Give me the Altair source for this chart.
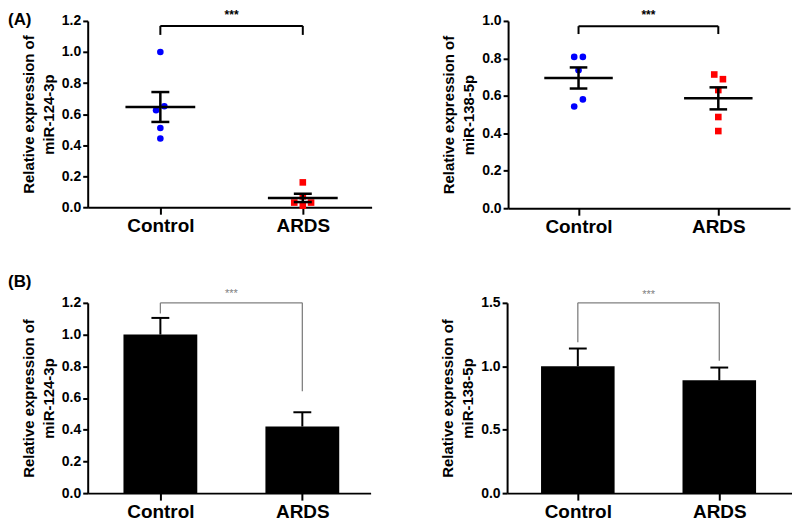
import altair as alt
import pandas as pd

# ---------------- data ----------------
GROUPS = ["Control", "ARDS"]

# Panel A: individual samples (relative expression)
A1_CONTROL = [1.00, 0.65, 0.625, 0.51, 0.443]
A1_ARDS = [0.16, 0.03, 0.01, 0.03, 0.07]
A2_CONTROL = [0.808, 0.808, 0.737, 0.581, 0.543]
A2_ARDS = [0.714, 0.689, 0.631, 0.487, 0.412]

# Panel B: group means and error
B1_MEAN = [1.00, 0.42]
B1_ERR = [0.105, 0.09]
B2_MEAN = [1.00, 0.89]
B2_ERR = [0.14, 0.10]

TITLE_124 = ["Relative expression of", "miR-124-3p"]
TITLE_138 = ["Relative expression of", "miR-138-5p"]
SIG = "***"

# ---------------- layout / style ----------------
FONT = "Liberation Sans"
JIT_A1_C = [0, 0.028, -0.03, 0, 0]
JIT_A1_A = [0, -0.06, 0, 0.058, 0]
JIT_A2_C = [-0.031, 0.031, 0, 0.031, -0.031]
JIT_A2_A = [-0.029, 0.033, 0, 0, 0]

LABEL_EXPR = "['', '%s', '%s'][datum.value] || ''" % (GROUPS[0], GROUPS[1])


class Enc:
    def __init__(self, xdom, ydom, ticks, title):
        self.xdom, self.ydom = xdom, ydom
        self.xax = alt.Axis(values=[1, 2], labelExpr=LABEL_EXPR, title=None,
                            labelFontSize=19, labelPadding=2, tickSize=7)
        self.yax = alt.Axis(values=ticks, format=".1f", title=title, labelFontSize=14,
                            tickSize=5, labelPadding=2, titlePadding=5,
                            titleFontSize=15, titleLineHeight=20)

    def x(self, field):
        return alt.X(field, type="quantitative", axis=self.xax,
                     scale=alt.Scale(domain=self.xdom, nice=False, zero=False))

    def y(self, field):
        return alt.Y(field, type="quantitative", axis=self.yax,
                     scale=alt.Scale(domain=self.ydom, nice=False, zero=True))


def bracket_layers(E, level, drop_c, drop_a, star_y, color, sw, star_size, weight):
    seg = pd.DataFrame({
        "x": [1, 1, 2], "x2": [2, 1, 2],
        "y": [level, drop_c, drop_a], "y2": [level, level, level]})
    br = alt.Chart(seg).mark_rule(color=color, strokeWidth=sw).encode(
        x=E.x("x"), x2="x2:Q", y=E.y("y"), y2="y2:Q")
    st = alt.Chart(pd.DataFrame({"x": [1.5], "y": [star_y], "t": [SIG]})).mark_text(
        color=color, fontSize=star_size, font=FONT, fontWeight=weight, baseline="middle"
    ).encode(x=E.x("x"), y=E.y("y"), text="t:N")
    return [br, st]


def scatter_panel(ctrl, ards, jc, ja, ydom, ticks, title, w, h, xdom, brk, star_y, tag=None):
    E = Enc(xdom, ydom, ticks, title)
    pts = pd.DataFrame({
        "g": [GROUPS[0]] * len(ctrl) + [GROUPS[1]] * len(ards),
        "v": ctrl + ards,
        "pos": [1] * len(ctrl) + [2] * len(ards),
    })
    pts["x"] = pts["pos"] + (jc + ja)
    summ = pts.groupby("pos")["v"].agg(["mean", "std", "count"]).reset_index()
    summ["sem"] = summ["std"] / summ["count"] ** 0.5
    summ["lo"] = summ["mean"] - summ["sem"]
    summ["hi"] = summ["mean"] + summ["sem"]
    summ["ml"] = summ["pos"] - 0.245
    summ["mr"] = summ["pos"] + 0.245
    summ["cl"] = summ["pos"] - 0.063
    summ["cr"] = summ["pos"] + 0.063
    caps = pd.concat([summ.assign(c=summ["lo"]), summ.assign(c=summ["hi"])])

    ctrl_pts = alt.Chart(pts[pts.pos == 1]).mark_circle(
        color="#0000ff", size=44, opacity=1).encode(x=E.x("x"), y=E.y("v"))
    ards_pts = alt.Chart(pts[pts.pos == 2]).mark_square(
        color="#ff0000", size=44, opacity=1).encode(x=E.x("x"), y=E.y("v"))
    mean_l = alt.Chart(summ).mark_rule(color="black", strokeWidth=2.5).encode(
        x=E.x("ml"), x2="mr:Q", y=E.y("mean"))
    err_l = alt.Chart(summ).mark_rule(color="black", strokeWidth=2.5).encode(
        x=E.x("pos"), y=E.y("lo"), y2="hi:Q")
    cap_l = alt.Chart(caps).mark_rule(color="black", strokeWidth=2.5).encode(
        x=E.x("cl"), x2="cr:Q", y=E.y("c"))
    layers = [ctrl_pts, ards_pts, mean_l, err_l, cap_l]
    layers += bracket_layers(E, brk[0], brk[1], brk[1], star_y, "black", 2, 12, "bold")
    if tag:
        layers.append(alt.Chart(pd.DataFrame({"t": [tag]})).mark_text(
            font=FONT, fontWeight="bold", fontSize=17, align="left", baseline="top",
            color="black").encode(x=alt.value(-80), y=alt.value(-9), text="t:N"))
    return alt.layer(*layers).properties(width=w, height=h)


def bar_panel(means, errs, ydom, ticks, title, w, h, xdom, brk, star_y, tag=None):
    E = Enc(xdom, ydom, ticks, title)
    df = pd.DataFrame({"g": GROUPS, "pos": [1, 2], "m": means, "e": errs})
    df["top"] = df["m"] + df["e"]
    df["bl"] = df["pos"] - 0.26
    df["br"] = df["pos"] + 0.26
    df["cl"] = df["pos"] - 0.063
    df["cr"] = df["pos"] + 0.063
    df["zero"] = 0.0
    bars = alt.Chart(df).mark_bar(color="black").encode(
        x=E.x("bl"), x2="br:Q", y=E.y("m"), y2="zero:Q")
    err = alt.Chart(df).mark_rule(color="black", strokeWidth=2).encode(
        x=E.x("pos"), y=E.y("m"), y2="top:Q")
    cap = alt.Chart(df).mark_rule(color="black", strokeWidth=2).encode(
        x=E.x("cl"), x2="cr:Q", y=E.y("top"))
    layers = [bars, err, cap]
    layers += bracket_layers(E, brk[0], brk[1], brk[2], star_y, "#808080", 1.3, 11, "normal")
    if tag:
        layers.append(alt.Chart(pd.DataFrame({"t": [tag]})).mark_text(
            font=FONT, fontWeight="bold", fontSize=17, align="left", baseline="top",
            color="black").encode(x=alt.value(-80), y=alt.value(-29), text="t:N"))
    return alt.layer(*layers).properties(width=w, height=h)


a1 = scatter_panel(A1_CONTROL, A1_ARDS, JIT_A1_C, JIT_A1_A, [0, 1.2],
                   [0, 0.2, 0.4, 0.6, 0.8, 1.0, 1.2], TITLE_124, 285, 187,
                   [0.49, 2.483], (1.168, 1.11), 1.235, tag="(A)")
a2 = scatter_panel(A2_CONTROL, A2_ARDS, JIT_A2_C, JIT_A2_A, [0, 1.0],
                   [0, 0.2, 0.4, 0.6, 0.8, 1.0], TITLE_138, 283, 188,
                   [0.496, 2.513], (0.972, 0.93), 1.03)
b1 = bar_panel(B1_MEAN, B1_ERR, [0, 1.2], [0, 0.2, 0.4, 0.6, 0.8, 1.0, 1.2],
               TITLE_124, 284, 191, [0.488, 2.481], (1.2, 1.133, 0.642), 1.255, tag="(B)")
b2 = bar_panel(B2_MEAN, B2_ERR, [0, 1.5], [0, 0.5, 1.0, 1.5], TITLE_138, 286, 191,
               [0.5, 2.514], (1.5, 1.19, 1.044), 1.565)

row_a = alt.hconcat(a1, a2, spacing=70)
row_b = alt.hconcat(b1, b2, spacing=70)
chart = alt.vconcat(row_a, row_b, spacing=37).properties(
    padding=0, background="white"
).configure_view(stroke=None).configure_axis(
    grid=False, domainColor="black", domainWidth=2, tickColor="black", tickWidth=2,
    labelColor="black", labelFont=FONT, labelFontWeight="bold",
    titleColor="black", titleFont=FONT, titleFontWeight="bold",
)

chart.save("out.html", embed_options={"renderer": "svg", "actions": False})
